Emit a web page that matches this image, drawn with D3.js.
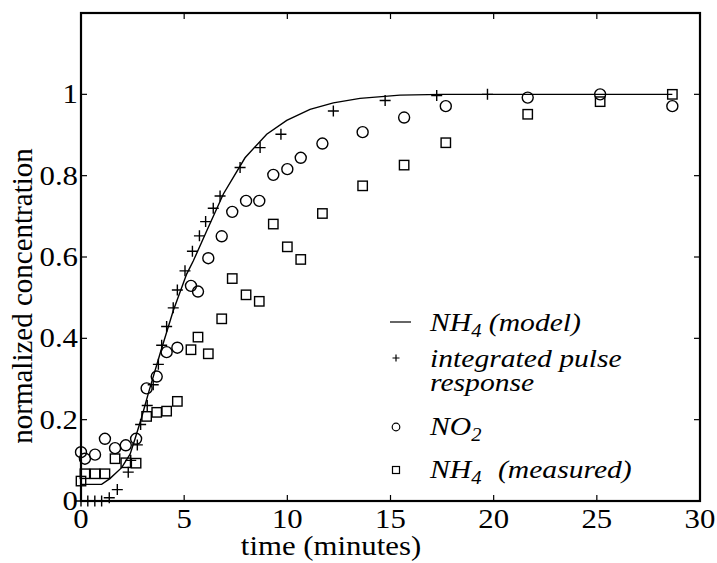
<!DOCTYPE html>
<html>
<head>
<meta charset="utf-8">
<script src="https://cdn.jsdelivr.net/npm/d3@7"></script>
<style>
  body { margin: 0; background: #fff; }
  svg text { font-family: "Liberation Serif", "Times New Roman", serif; fill: #000; }
</style>
</head>
<body>
<div id="chart"></div>
<script>
// integrated pulse response (+)
const pulseT = [0, 0.33, 0.67, 1.0, 1.37, 1.76, 2.29, 2.41, 2.73, 2.89, 3.21, 3.5, 3.75, 3.91, 4.15, 4.47, 4.67, 5.04, 5.4, 5.74, 6.04, 6.41, 6.74, 7.71, 8.68, 9.69, 12.23, 14.74, 17.24, 19.7];
const pulseV = [0, 0, 0, 0, 0.008, 0.028, 0.071, 0.1, 0.138, 0.188, 0.235, 0.286, 0.336, 0.383, 0.429, 0.475, 0.519, 0.566, 0.614, 0.652, 0.687, 0.72, 0.75, 0.82, 0.869, 0.902, 0.959, 0.985, 0.997, 1.0];

// sample times shared by NO2 and NH4 measured
const sampleT = [0, 0.19, 0.68, 1.16, 1.65, 2.17, 2.67, 3.18, 3.67, 4.15, 4.67, 5.33, 5.67, 6.17, 6.82, 7.33, 8.0, 8.64, 9.32, 10.0, 10.65, 11.7, 13.65, 15.66, 17.68, 21.65, 25.16, 28.66];
const no2V = [0.12, 0.104, 0.114, 0.153, 0.13, 0.137, 0.153, 0.277, 0.306, 0.366, 0.377, 0.529, 0.515, 0.597, 0.651, 0.711, 0.738, 0.738, 0.802, 0.816, 0.844, 0.879, 0.907, 0.943, 0.971, 0.992, 1.0, 0.971];
const nh4V = [0.049, 0.067, 0.067, 0.067, 0.104, 0.094, 0.093, 0.208, 0.218, 0.221, 0.245, 0.372, 0.403, 0.362, 0.448, 0.547, 0.507, 0.491, 0.681, 0.625, 0.594, 0.707, 0.775, 0.826, 0.881, 0.951, 0.982, 1.0];

// NH4 model curve
const modelT = [0, 1.0, 1.4, 1.97, 2.38, 2.62, 2.94, 3.26, 3.83, 4.47, 5.12, 5.44, 6.09, 6.9, 7.95, 9.0, 9.97, 11.1, 12.23, 13.52, 15.46, 17.5, 20, 25, 28.66];
const modelV = [0.041, 0.041, 0.055, 0.082, 0.115, 0.153, 0.206, 0.264, 0.362, 0.468, 0.558, 0.59, 0.664, 0.755, 0.844, 0.902, 0.936, 0.963, 0.979, 0.99, 0.998, 1.0, 1.0, 1.0, 1.0];

const xTicks = [0, 5, 10, 15, 20, 25, 30];
const yTicks = [0, 0.2, 0.4, 0.6, 0.8, 1];
const yTickLabels = ["0", "0.2", "0.4", "0.6", "0.8", "1"];

const W = 717, H = 563;
const margin = { top: 13, right: 17, bottom: 62, left: 81 };
const width = W - margin.left - margin.right;
const height = H - margin.top - margin.bottom;
const SX = 1.14; // horizontal stretch of the original lettering

const x = d3.scaleLinear().domain([0, 30]).range([0, width]);
const y = d3.scaleLinear().domain([0, 1.2]).range([height, 0]);

const svg = d3.select("#chart").append("svg").attr("width", W).attr("height", H);
const g = svg.append("g").attr("transform", `translate(${margin.left},${margin.top})`);

function stretchText(sel, tx, ty, size, anchor) {
  return sel.append("text")
    .attr("transform", `translate(${tx},${ty}) scale(${SX},1)`)
    .attr("font-size", size)
    .attr("text-anchor", anchor || "start");
}

// model line
const line = d3.line().x((d, i) => x(modelT[i])).y((d, i) => y(modelV[i]));
g.append("path").datum(modelV).attr("d", line)
  .attr("fill", "none").attr("stroke", "#000").attr("stroke-width", 1.4);

// plus markers
const plusPath = (s) => `M${-s},0H${s}M0,${-s}V${s}`;
g.append("g").selectAll("path").data(pulseV).join("path")
  .attr("transform", (d, i) => `translate(${x(pulseT[i])},${y(d)})`)
  .attr("d", plusPath(5.5))
  .attr("stroke", "#000").attr("stroke-width", 1.4).attr("fill", "none");

// NO2 circles
g.append("g").selectAll("circle").data(no2V).join("circle")
  .attr("cx", (d, i) => x(sampleT[i])).attr("cy", (d) => y(d)).attr("r", 5.5)
  .attr("fill", "none").attr("stroke", "#000").attr("stroke-width", 1.4);

// NH4 measured squares
const sq = 9.4;
g.append("g").selectAll("rect").data(nh4V).join("rect")
  .attr("x", (d, i) => x(sampleT[i]) - sq / 2).attr("y", (d) => y(d) - sq / 2)
  .attr("width", sq).attr("height", sq)
  .attr("fill", "none").attr("stroke", "#000").attr("stroke-width", 1.4);

// frame + inward ticks
g.append("rect").attr("width", width).attr("height", height)
  .attr("fill", "none").attr("stroke", "#000").attr("stroke-width", 2.2);
const tk = 6;
xTicks.slice(1, -1).forEach((t) => {
  g.append("line").attr("x1", x(t)).attr("x2", x(t)).attr("y1", height).attr("y2", height - tk).attr("stroke", "#000").attr("stroke-width", 1.2);
  g.append("line").attr("x1", x(t)).attr("x2", x(t)).attr("y1", 0).attr("y2", tk).attr("stroke", "#000").attr("stroke-width", 1.2);
});
yTicks.slice(1).forEach((t) => {
  g.append("line").attr("x1", 0).attr("x2", tk).attr("y1", y(t)).attr("y2", y(t)).attr("stroke", "#000").attr("stroke-width", 1.2);
  g.append("line").attr("x1", width).attr("x2", width - tk).attr("y1", y(t)).attr("y2", y(t)).attr("stroke", "#000").attr("stroke-width", 1.2);
});

// tick labels
xTicks.forEach((t) => {
  stretchText(g, x(t), height + 27, 27, "middle").text(t);
});
yTicks.forEach((t, i) => {
  stretchText(g, -3, y(t) + 9, 27, "end").text(yTickLabels[i]);
});

// axis titles
stretchText(svg, 331, 555, 27, "middle").text("time (minutes)");
svg.append("text")
  .attr("transform", "translate(32,296) rotate(-90)")
  .attr("font-size", 29).attr("text-anchor", "middle")
  .text("normalized concentration");

// legend
const lg = svg.append("g").attr("font-style", "italic");
const lx = 430;
lg.append("line").attr("x1", 390).attr("x2", 411).attr("y1", 322).attr("y2", 322)
  .attr("stroke", "#000").attr("stroke-width", 1.2);
lg.append("path").attr("transform", "translate(396,358)").attr("d", plusPath(3.5))
  .attr("stroke", "#000").attr("stroke-width", 1.2);
lg.append("circle").attr("cx", 396).attr("cy", 427).attr("r", 3.8)
  .attr("fill", "none").attr("stroke", "#000").attr("stroke-width", 1.2);
lg.append("rect").attr("x", 392.5).attr("y", 466.5).attr("width", 7).attr("height", 7)
  .attr("fill", "none").attr("stroke", "#000").attr("stroke-width", 1.2);

const t1 = stretchText(lg, lx, 331, 26);
t1.append("tspan").text("NH");
t1.append("tspan").attr("dy", 6).attr("font-size", 18).text("4");
t1.append("tspan").attr("dy", -6).text(" (model)");
stretchText(lg, lx, 367, 26).text("integrated pulse");
stretchText(lg, lx, 391, 26).text("response");
const t3 = stretchText(lg, lx, 435, 26);
t3.append("tspan").text("NO");
t3.append("tspan").attr("dy", 6).attr("font-size", 18).text("2");
const t4 = stretchText(lg, lx, 478, 26);
t4.append("tspan").text("NH");
t4.append("tspan").attr("dy", 6).attr("font-size", 18).text("4");
t4.append("tspan").attr("dy", -6).attr("dx", 8).text(" (measured)");
</script>
</body>
</html>
